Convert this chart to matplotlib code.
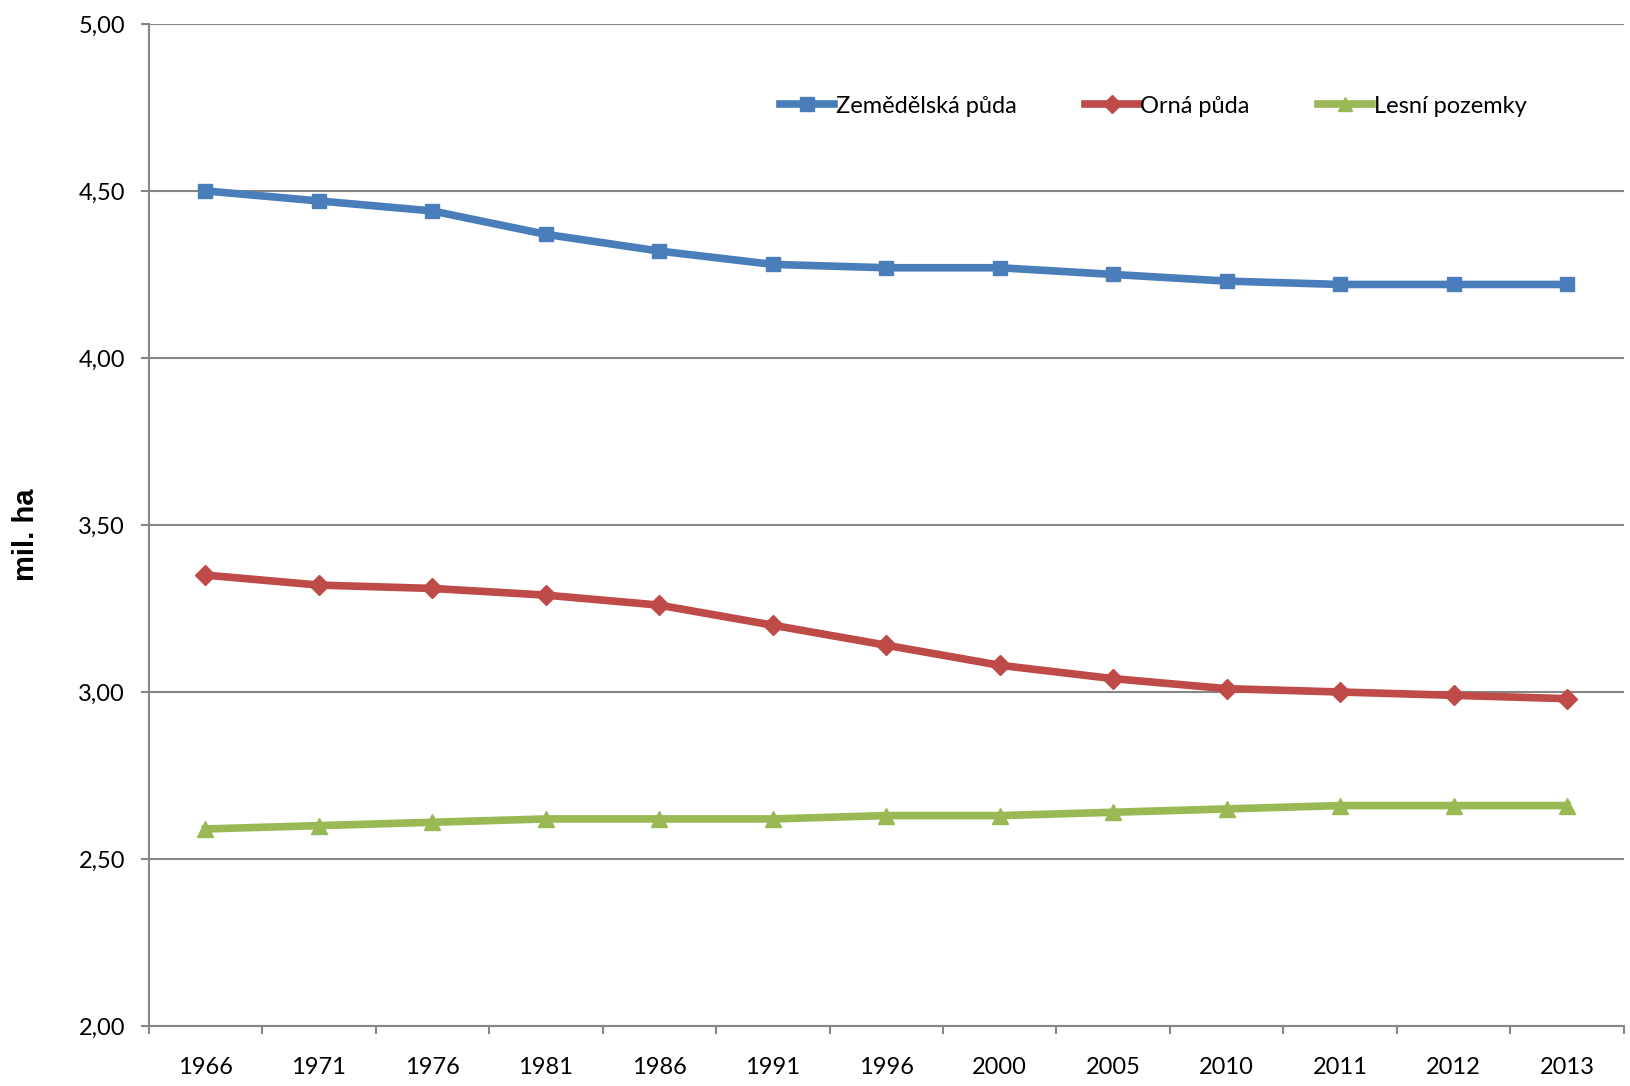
import matplotlib
matplotlib.use("Agg")
import matplotlib.pyplot as plt
import numpy as np

years = ["1966", "1971", "1976", "1981", "1986", "1991", "1996", "2000", "2005", "2010", "2011", "2012", "2013"]
zemedelska = [4.50, 4.47, 4.44, 4.37, 4.32, 4.28, 4.27, 4.27, 4.25, 4.23, 4.22, 4.22, 4.22]
orna = [3.35, 3.32, 3.31, 3.29, 3.26, 3.20, 3.14, 3.08, 3.04, 3.01, 3.00, 2.99, 2.98]
lesni = [2.59, 2.60, 2.61, 2.62, 2.62, 2.62, 2.63, 2.63, 2.64, 2.65, 2.66, 2.66, 2.66]
series_names = ["Zemědělská půda", "Orná půda", "Lesní pozemky"]
yticks = [2.0, 2.5, 3.0, 3.5, 4.0, 4.5, 5.0]

font = ["Lato", "DejaVu Sans"]

fig = plt.figure(figsize=(16.31, 10.86), dpi=100)
ax = fig.add_axes([0.0912, 0.0552, 0.9044, 0.9228])

x = np.arange(len(years)) + 0.5
ax.plot(x, zemedelska, color="#4A7EBB", lw=5.5, marker="s", ms=10.5, label=series_names[0], zorder=3)
ax.plot(x, orna, color="#BE4B48", lw=5.5, marker="D", ms=10.5, label=series_names[1], zorder=3)
ax.plot(x, lesni, color="#98B954", lw=5.5, marker="^", ms=11, label=series_names[2], zorder=3)

ax.set_xlim(0, len(years))
ax.set_ylim(2.0, 5.0)
ax.set_yticks(yticks)
ax.set_yticklabels([f"{v:.2f}".replace(".", ",") for v in yticks], fontfamily=font, fontsize=17)
ax.set_xticks(x)
ax.set_xticklabels(years, fontfamily=font, fontsize=17)
ax.set_xticks(np.arange(len(years) + 1), minor=True)
ax.tick_params(axis="x", which="major", length=0, pad=22)
ax.tick_params(axis="x", which="minor", length=6, width=1.5, color="#868686")
ax.tick_params(axis="y", which="major", length=6, width=1.5, color="#868686", pad=11)

ax.grid(axis="y", color="#868686", lw=1.5, zorder=0)
for s in ["top", "right"]:
    ax.spines[s].set_visible(False)
for s in ["left", "bottom"]:
    ax.spines[s].set_color("#868686")
    ax.spines[s].set_linewidth(1.5)

fig.text(0.016, 0.508, "mil. ha", rotation=90, ha="center", va="center",
         fontsize=21, fontweight="bold", fontfamily=["Liberation Sans", "DejaVu Sans"])

leg = ax.legend(loc="center left", bbox_to_anchor=(0.428, 0.918), ncol=3, frameon=False,
                prop={"family": font, "size": 17}, handlelength=2.3, handletextpad=0.05,
                columnspacing=2.9, markerscale=0.9, borderaxespad=0, borderpad=0)

fig.savefig("out.png", dpi=100, facecolor="white")
